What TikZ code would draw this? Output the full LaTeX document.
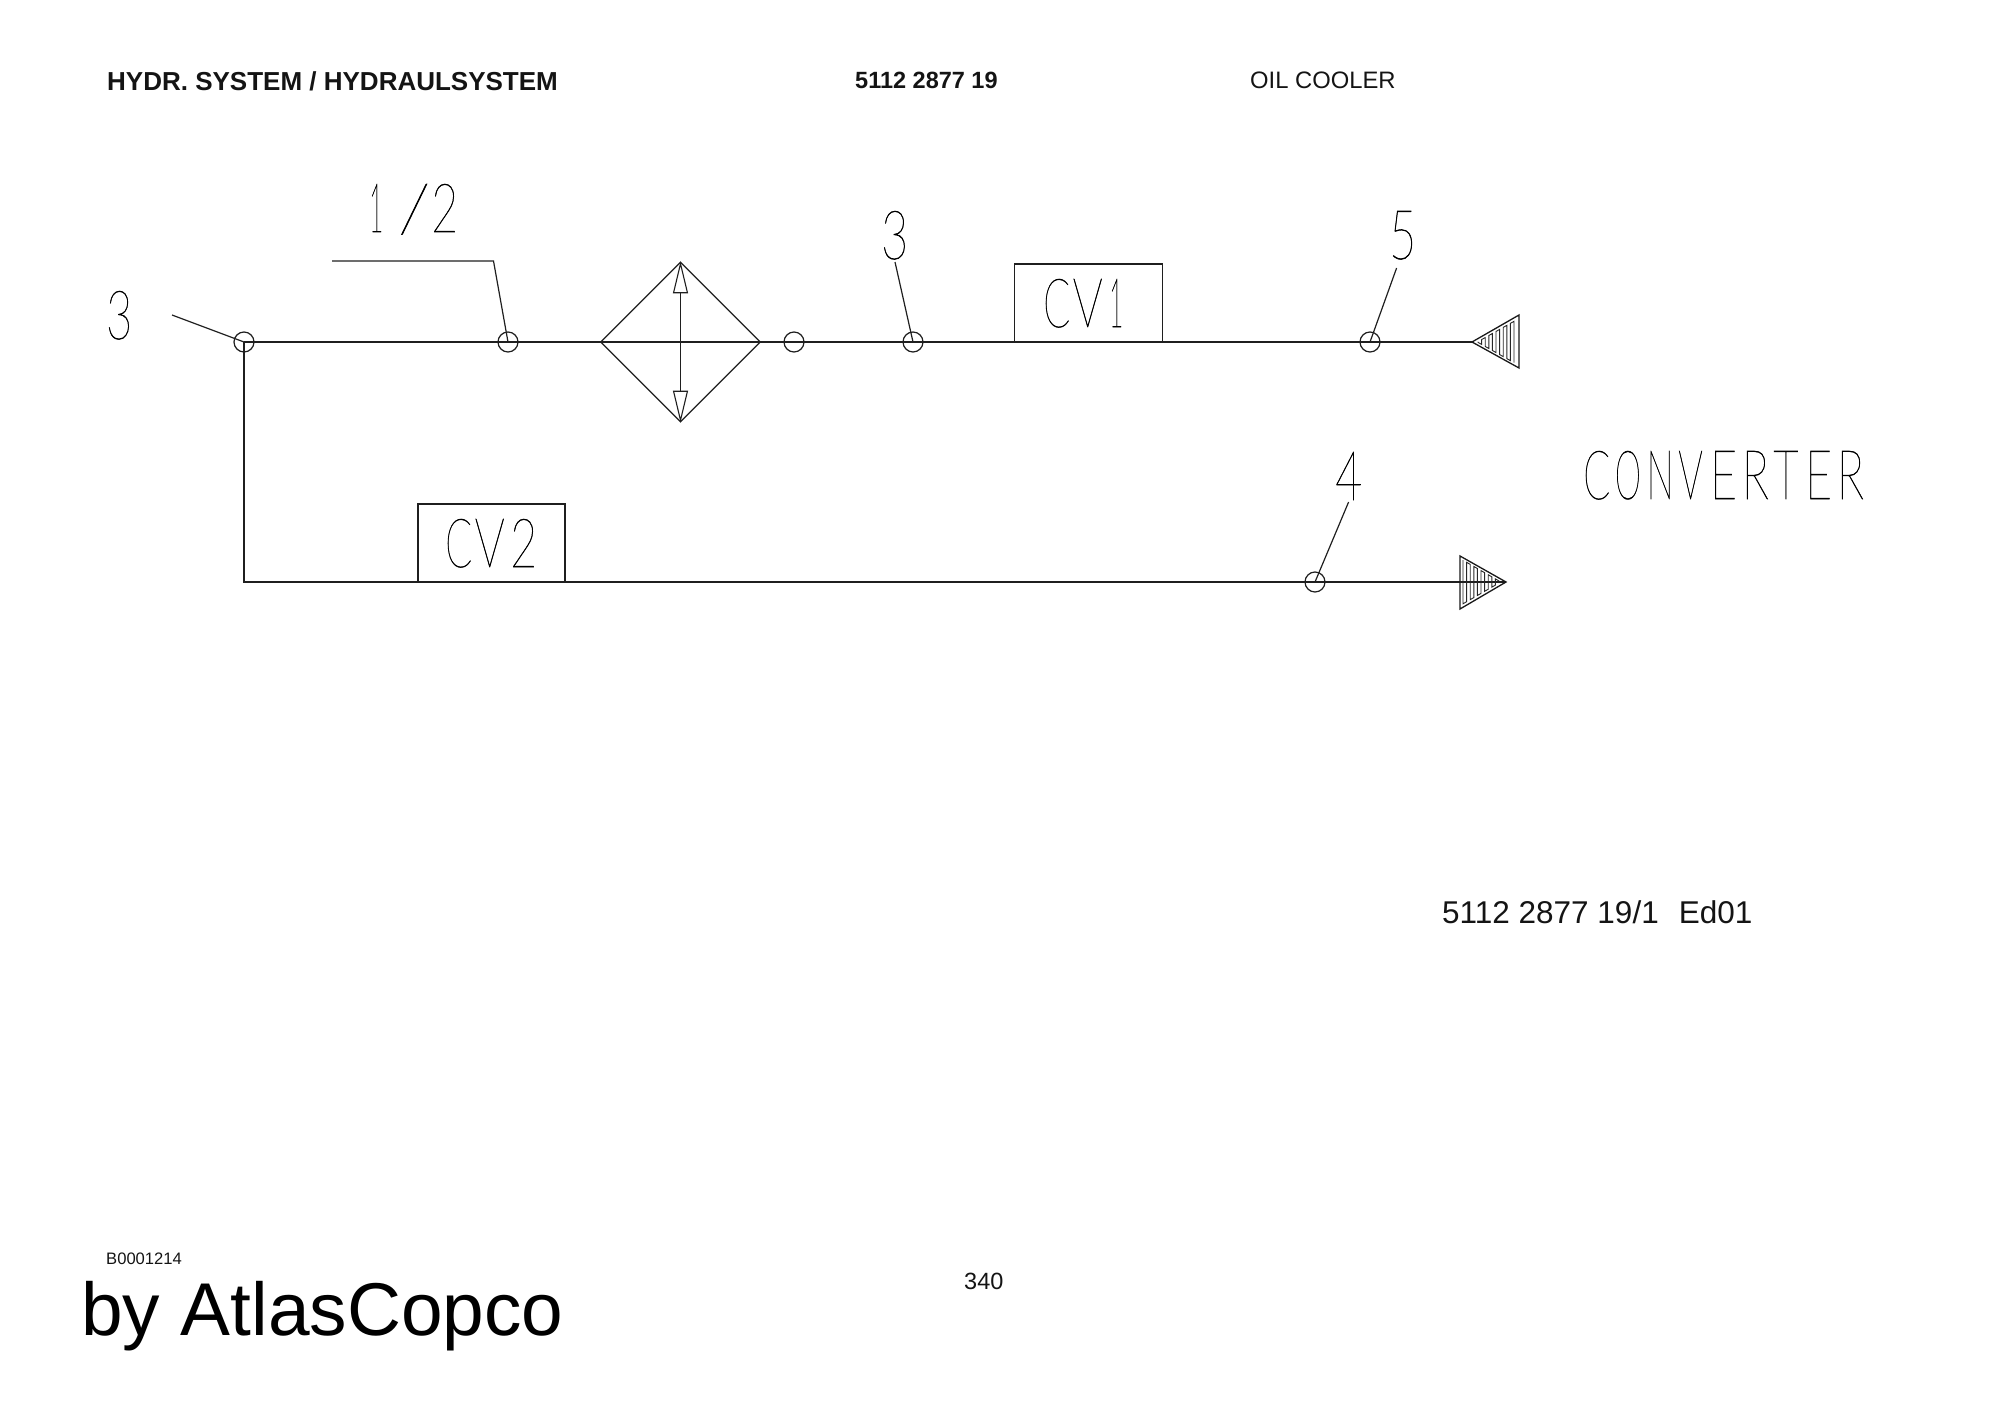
\documentclass[tikz,border=0pt]{standalone}
\usepackage{fontspec}
\usepackage{graphicx}
\setmainfont{Liberation Sans}
\newfontfamily\stick[FakeBold=0.8]{Lato Thin}
\usetikzlibrary{shapes.geometric,arrows.meta}
\newcommand{\gl}[3]{\makebox[#2pt][l]{\resizebox{#1pt}{48pt}{\stick #3}}}
\tikzset{
  pipe/.style={line width=1.3pt,draw=black!88},
  lead/.style={line width=1.2pt,draw=black!88},
  port/.style={circle,draw=black!88,line width=1.2pt,minimum size=20pt,inner sep=0pt},
  valve/.style={rectangle,draw=black!88,line width=1.1pt,inner sep=0pt},
  cooler/.style={diamond,draw=black!88,line width=1.3pt,minimum width=160pt,minimum height=160pt,inner sep=0pt,aspect=1},
  txt/.style={anchor=base west,inner sep=0pt,text=black!92},
  stk/.style={anchor=base west,inner sep=0pt,text=black},
  hatch/.style={line width=0.9pt,draw=black!85,line join=miter},
  tri/.style={line width=1.3pt,draw=black!90,line join=miter},
  twoway/.style={line width=1.2pt,draw=black!88,{Triangle[open,length=32pt,width=15pt,line width=1.1pt]}-{Triangle[open,length=32pt,width=15pt,line width=1.1pt]}}
}
\begin{document}
\begin{tikzpicture}[x=1pt,y=-1pt]
\useasboundingbox (0,0) rectangle (2000,1415);
% header
\node[txt,font=\bfseries\fontsize{26}{26}\selectfont] (hd1) at (107,90.7) {HYDR. SYSTEM / HYDRAULSYSTEM};
\node[txt,font=\bfseries\fontsize{23.5}{23.5}\selectfont] (hd2) at (855,89) {5112 2877 19};
\node[txt,font=\fontsize{23.8}{23.8}\selectfont] (hd3) at (1250,89) {OIL COOLER};
% junctions and ports
\coordinate (corner) at (244,582);
\node[port] (j1) at (244,342) {};
\node[port] (p12) at (508,342) {};
\node[port] (p0) at (794,342) {};
\node[port] (p3) at (913,342) {};
\node[port] (p5) at (1370,342) {};
\node[port] (p4) at (1315,582) {};
\node[cooler] (cool) at (680.5,342) {};
\node[valve,minimum width=147.5pt,minimum height=78pt] (cv1) at (1088.3,303) {};
\node[valve,minimum width=147pt,minimum height=78pt] (cv2) at (491.5,543) {};
\coordinate (tipA) at (1472,342);
\coordinate (tipB) at (1506,582);
% pipes
\draw[pipe] (j1.center) -- (tipA);
\draw[pipe] (j1.center) -- (corner) -- (tipB);
\draw[twoway] (cool.north) -- (cool.south);
% end triangles
\draw[tri] (tipA) -- (1519,315) -- (1519,368) -- cycle;
\draw[tri] (tipB) -- (1460,556) -- (1460,609) -- cycle;
\draw[hatch] (1478,342)
  \foreach \k [evaluate=\k as \X using {1478+3.6*\k},
               evaluate=\k as \H using {(1478+3.6*\k-1472)*0.564-3},
               evaluate=\k as \S using {1-2*mod(\k,2)}] in {0,...,10}
  { -- (\X,342-\S*\H) -- (\X,342+\S*\H) };
\draw[hatch] (1463,582)
  \foreach \k [evaluate=\k as \X using {1463+3.6*\k},
               evaluate=\k as \H using {(1506-1463-3.6*\k)*0.576-3},
               evaluate=\k as \S using {1-2*mod(\k,2)}] in {0,...,10}
  { -- (\X,582-\S*\H) -- (\X,582+\S*\H) };
% leaders
\coordinate (l3a) at (172,315);
\coordinate (l12a) at (332,261);
\coordinate (l12b) at (493.5,261);
\coordinate (l3b) at (895,262);
\coordinate (l5) at (1396.6,268);
\coordinate (l4) at (1348.6,502);
\draw[lead] (l3a) -- (j1.center);
\draw[lead] (l12a) -- (l12b) -- (p12.center);
\draw[lead] (l3b) -- (p3.center);
\draw[lead] (l5) -- (p5.center);
\draw[lead] (l4) -- (p4.center);
% stick labels
\node[stk] (t3a) at (106,339) {\gl{26}{26}{3}};
\node[stk] (t12) at (369,232) {\gl{14}{29}{1}\gl{32}{33}{/}\gl{27}{27}{2}};
\node[stk] (t3b) at (881,259) {\gl{27}{27}{3}};
\node[stk] (t5) at (1389,259) {\gl{27}{27}{5}};
\node[stk] (t4) at (1335,500) {\gl{27}{27}{4}};
\node[stk] (tcv1) at (1043,327) {\gl{27}{29.5}{C}\gl{30}{36.5}{V}\gl{14}{14}{1}};
\node[stk] (tcv2) at (445,567) {\gl{27}{29.5}{C}\gl{30}{35.5}{V}\gl{27}{27}{2}};
\node[stk] (tconv) at (1583,499) {\gl{27}{31.7}{C}\gl{26}{31.7}{O}\gl{27}{31.7}{N}\gl{24.5}{31.7}{V}\gl{27}{31.7}{E}\gl{27}{31.7}{R}\gl{25}{31.7}{T}\gl{27}{31.7}{E}\gl{27}{27}{R}};
% footer
\node[txt,font=\fontsize{31.5}{31.5}\selectfont] (ref) at (1442,923.3) {5112 2877 19/1\hspace{20pt}Ed01};
\node[txt,font=\fontsize{23.5}{23.5}\selectfont] (pg) at (964,1289) {340};
\node[txt,font=\fontsize{16.6}{16.6}\selectfont] (bn) at (106,1264) {B0001214};
\node[txt,font=\fontsize{74.8}{74.8}\selectfont,text=black] (by) at (81,1335) {by AtlasCopco};
\end{tikzpicture}
\end{document}
